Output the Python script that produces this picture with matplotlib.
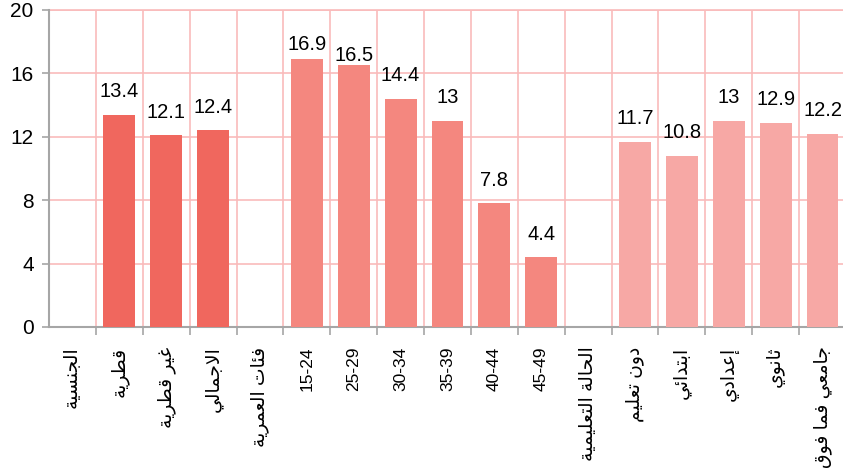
import numpy as np
import matplotlib
matplotlib.use("Agg")
import matplotlib.pyplot as plt
from matplotlib.ticker import FixedLocator

categories = ["الجنسية", "قطرية", "غير قطرية", "الاجمالي",
              "فئات العمرية", "15-24", "25-29", "30-34", "35-39", "40-44", "45-49",
              "الحالة التعليمية", "دون تعليم", "ابتدائي", "إعدادي", "ثانوي", "جامعي فما فوق"]
values = [np.nan, 13.4, 12.1, 12.4,
          np.nan, 16.9, 16.5, 14.4, 13, 7.8, 4.4,
          np.nan, 11.7, 10.8, 13, 12.9, 12.2]
groups = [0, 0, 0, 0, 1, 1, 1, 1, 1, 1, 1, 2, 2, 2, 2, 2, 2]
yticks = [0, 4, 8, 12, 16, 20]

group_colors = ["#F0675E", "#F4877F", "#F7A8A5"]
grid_color = "#F9BBBB"
axis_color = "#A6A6A6"

# arabic presentation forms: (isolated base, number of forms)
FORMS = {
    "ا": (0xFE8D, 2), "إ": (0xFE87, 2), "ب": (0xFE8F, 4), "ة": (0xFE93, 2),
    "ت": (0xFE95, 4), "ث": (0xFE99, 4), "ج": (0xFE9D, 4), "ح": (0xFEA1, 4),
    "د": (0xFEA9, 2), "ر": (0xFEAD, 2), "س": (0xFEB1, 4), "ط": (0xFEC1, 4),
    "ع": (0xFEC9, 4), "غ": (0xFECD, 4), "ف": (0xFED1, 4), "ق": (0xFED5, 4),
    "ل": (0xFEDD, 4), "م": (0xFEE1, 4), "ن": (0xFEE5, 4), "و": (0xFEED, 2),
    "ي": (0xFEF1, 4), "ئ": (0xFE89, 4),
}


def shape(text):
    if not any(c in FORMS for c in text):
        return text
    out = []
    i = 0
    while i < len(text):
        c = text[i]
        if c not in FORMS:
            out.append(c)
            i += 1
            continue
        prev = text[i - 1] if i > 0 else ""
        join_prev = prev in FORMS and FORMS[prev][1] == 4
        nxt = text[i + 1] if i + 1 < len(text) else ""
        if c == "ل" and nxt in ("ا", "إ"):
            base = 0xFEFB if nxt == "ا" else 0xFEF9
            out.append(chr(base + (1 if join_prev else 0)))
            i += 2
            continue
        base, n = FORMS[c]
        join_next = n == 4 and nxt in FORMS
        if join_prev and join_next:
            k = 3
        elif join_next:
            k = 2
        elif join_prev:
            k = 1
        else:
            k = 0
        out.append(chr(base + k))
        i += 1
    return "".join(out)[::-1]


plt.rcParams["font.family"] = ["Liberation Sans", "DejaVu Sans"]

fig = plt.figure(figsize=(8.43, 4.68), dpi=100)
ax = fig.add_axes([49 / 843, 141 / 468, 797 / 843, 317 / 468])

x = np.arange(len(categories))
colors = [group_colors[g] for g in groups]
bars = ax.bar(x, np.nan_to_num(values), width=0.68, color=colors, zorder=3)

label_shift = {5: 15, 6: 10}
for i, v in enumerate(values):
    if np.isnan(v):
        continue
    txt = f"{v:g}"
    ax.annotate(txt, (x[i], v), xytext=(0, label_shift.get(i, 23)),
                textcoords="offset pixels", ha="center", va="center",
                fontsize=14.5, color="#000000", zorder=4)

ax.set_xlim(-0.5, len(categories) - 0.5)
ax.set_ylim(0, 20)
ax.set_yticks(yticks)
ax.set_yticklabels([str(t) for t in yticks], fontsize=15)

ax.set_xticks(x)
ax.set_xticklabels([shape(c) for c in categories], rotation=90, va="top",
                   ha="center", fontsize=12.5)
for lbl, c in zip(ax.get_xticklabels(), categories):
    if shape(c) != c:
        lbl.set_fontsize(13.5)
ax.xaxis.set_minor_locator(FixedLocator(np.arange(0.5, len(categories) - 0.5, 1)))
ax.tick_params(axis="x", which="major", length=0, pad=14)
ax.tick_params(axis="x", which="minor", length=6, color=axis_color, width=1.2)
ax.tick_params(axis="y", length=5, color=axis_color, width=1.2, pad=6)

ax.grid(axis="y", color=grid_color, linewidth=1.2, zorder=0)
ax.grid(axis="x", which="minor", color=grid_color, linewidth=1.2, zorder=0)
ax.axhline(20, color=grid_color, linewidth=1.2, zorder=0, clip_on=False)

for side in ("top", "right"):
    ax.spines[side].set_visible(False)
for side in ("left", "bottom"):
    ax.spines[side].set_color(axis_color)
    ax.spines[side].set_linewidth(1.5)

fig.savefig("out.png", dpi=100)
